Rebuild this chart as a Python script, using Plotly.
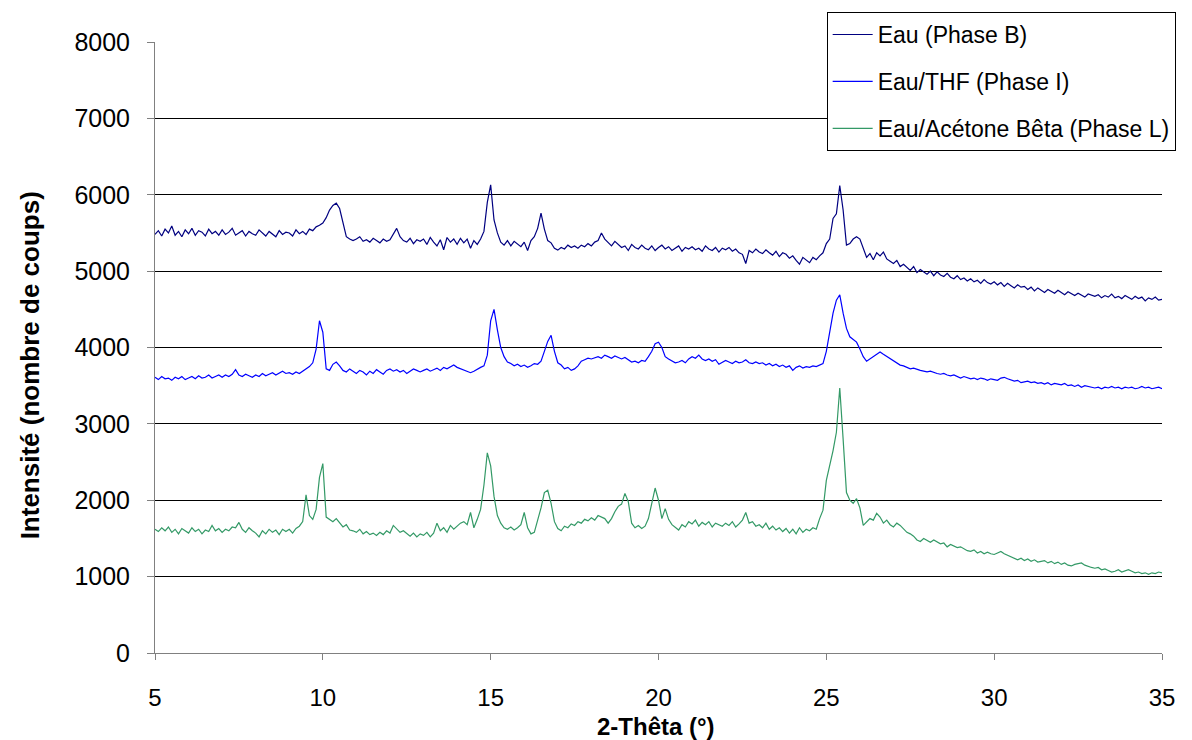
import numpy as np
import plotly.graph_objects as go

# 2-Theta positions (degrees), 0.1 step from 5 to 35
two_theta = [round(5 + 0.1 * i, 1) for i in range(301)]

series_names = ["Eau (Phase B)", "Eau/THF (Phase I)", "Eau/Acétone Bêta (Phase L)"]

eau_phase_b = [
    5480, 5530, 5460, 5550, 5500, 5590, 5470, 5520, 5450, 5540,
    5490, 5560, 5470, 5530, 5510, 5460, 5550, 5490, 5520, 5470,
    5540, 5480, 5510, 5560, 5470, 5500, 5530, 5460, 5520, 5490,
    5470, 5540, 5500, 5460, 5520, 5490, 5450, 5530, 5480, 5510,
    5500, 5460, 5540, 5490, 5520, 5480, 5550, 5530, 5580, 5600,
    5630, 5700, 5800, 5860, 5890, 5820, 5620, 5450, 5420, 5400,
    5420, 5450, 5390, 5410, 5380, 5430, 5400, 5370, 5420, 5390,
    5410, 5480, 5560, 5450, 5400, 5380, 5430, 5360, 5410, 5390,
    5420, 5350, 5440, 5380, 5330, 5410, 5280, 5440, 5380, 5420,
    5350, 5430, 5370, 5420, 5300, 5400, 5350, 5420, 5520, 5900,
    6130, 5670, 5500, 5380, 5340, 5400, 5330, 5390, 5360, 5320,
    5380, 5270, 5400, 5450, 5560, 5760, 5550, 5400, 5370, 5300,
    5275, 5310, 5290, 5340, 5310, 5330, 5300, 5340, 5320, 5360,
    5330, 5380, 5400, 5500, 5420, 5380, 5330, 5390, 5350, 5310,
    5330, 5270, 5350, 5310, 5290, 5340, 5300, 5280, 5330, 5270,
    5310, 5340, 5290, 5320, 5270, 5300, 5330, 5260, 5310, 5290,
    5320, 5280, 5300, 5260, 5330, 5290, 5270, 5310, 5250, 5300,
    5280, 5310, 5260, 5290, 5240, 5220, 5100, 5270, 5240, 5290,
    5250, 5230, 5280, 5240, 5210, 5260, 5190, 5240, 5220, 5170,
    5200, 5140, 5090, 5180, 5150, 5110, 5180, 5150, 5200, 5240,
    5360, 5420, 5690, 5750, 6120, 5800, 5340, 5360, 5420, 5450,
    5420, 5300, 5180, 5230, 5150, 5240, 5200, 5250, 5160, 5130,
    5100, 5140, 5060, 5090, 5050, 5010, 5060, 4980, 5020, 4990,
    4960, 5000, 4940, 4990, 4950, 4930, 4970, 4920, 4900, 4940,
    4890, 4910, 4870, 4900, 4860, 4880, 4840, 4890, 4850, 4830,
    4860, 4820, 4850, 4800, 4840, 4810, 4780, 4820, 4790, 4800,
    4760, 4790, 4740, 4780, 4750, 4720, 4760, 4730, 4710, 4750,
    4720, 4690, 4730, 4700, 4680, 4710, 4690, 4660, 4700, 4680,
    4670, 4690, 4650, 4680, 4660, 4700, 4650, 4670, 4640, 4680,
    4660, 4630, 4670, 4640, 4660, 4610, 4650, 4630, 4660, 4620,
    4630,
]

eau_thf_phase_i = [
    3610, 3580, 3620, 3590, 3600, 3570, 3610, 3590, 3620, 3580,
    3600, 3620, 3590, 3630, 3600, 3610, 3640, 3600, 3620, 3640,
    3610, 3640, 3620, 3650, 3710, 3640, 3620, 3650, 3630, 3610,
    3640, 3620, 3660, 3630, 3650, 3670, 3640, 3660, 3690, 3660,
    3670, 3650, 3680, 3660, 3690, 3720, 3750, 3800, 3980, 4350,
    4200, 3720, 3700, 3780, 3810, 3760, 3700, 3680, 3720, 3690,
    3660, 3700, 3680, 3640, 3690, 3660, 3710, 3680, 3650, 3700,
    3720, 3690, 3710, 3680, 3700, 3660, 3690, 3720, 3700, 3680,
    3700, 3720, 3690, 3710, 3730, 3700, 3740, 3720, 3750, 3770,
    3740, 3720, 3700, 3680, 3670, 3690, 3720, 3740, 3760, 3900,
    4350, 4500, 4230, 4000, 3880, 3810, 3790, 3760, 3780, 3750,
    3770, 3740, 3760, 3790, 3780, 3820, 3950, 4080, 4160, 3950,
    3800, 3770, 3720, 3740, 3700, 3720, 3760, 3820, 3840, 3860,
    3850, 3870, 3880, 3860, 3900, 3880, 3860, 3890, 3870, 3850,
    3870, 3840, 3810, 3820, 3800, 3830, 3820, 3880, 3950, 4050,
    4070, 4000, 3880, 3850, 3830, 3800, 3810, 3830, 3800, 3850,
    3880, 3860, 3900, 3850, 3830, 3850, 3820, 3840, 3780, 3800,
    3830, 3810, 3790, 3820, 3800, 3810, 3840, 3800, 3790, 3810,
    3790, 3800, 3770, 3790, 3760, 3780, 3750, 3770, 3740, 3760,
    3700, 3740, 3760, 3730, 3750, 3740, 3760, 3750, 3770, 3790,
    3950, 4200, 4450, 4620, 4690, 4450, 4250, 4140, 4100, 4070,
    3980, 3880, 3820, 3850, 3880, 3910, 3940, 3910, 3880, 3850,
    3820, 3790, 3770, 3760, 3740, 3720, 3730, 3710, 3700, 3690,
    3680, 3690, 3670, 3660, 3650, 3660, 3640, 3630, 3640, 3620,
    3600, 3620, 3610, 3590, 3600, 3580, 3600, 3590, 3570, 3590,
    3580, 3570, 3600, 3610, 3590, 3580, 3560, 3570, 3540, 3550,
    3560, 3540, 3550, 3530, 3540, 3520, 3540, 3510, 3530, 3520,
    3510, 3530, 3500, 3510, 3490, 3510, 3480, 3500, 3490, 3480,
    3470, 3480, 3460, 3480, 3470, 3490, 3470, 3480, 3460, 3480,
    3470, 3480, 3460, 3470, 3490, 3470, 3480, 3460, 3470, 3480,
    3460,
]

eau_acetone_phase_l = [
    1620, 1590, 1640, 1600, 1650, 1580, 1620, 1560, 1630, 1600,
    1570, 1640, 1590, 1620, 1560, 1610, 1590, 1670, 1600, 1630,
    1580, 1620, 1600, 1650, 1640, 1710, 1620, 1580, 1640, 1600,
    1570, 1520, 1600, 1560, 1620, 1580, 1610, 1550, 1620, 1590,
    1620, 1570, 1630, 1660, 1720, 2070, 1800, 1750, 1880, 2300,
    2480, 1780, 1750, 1720, 1760, 1700, 1650, 1680, 1610, 1600,
    1580, 1620, 1560, 1590, 1550, 1570, 1540, 1580, 1550, 1600,
    1570, 1670, 1620, 1580, 1600, 1560, 1530, 1570, 1520, 1560,
    1540, 1580, 1520, 1570, 1700, 1600, 1640, 1580, 1670, 1620,
    1660, 1700, 1720, 1680, 1840, 1640, 1750, 1880, 2200, 2620,
    2450, 2050, 1800, 1700, 1640, 1620, 1650, 1610, 1640, 1680,
    1840, 1640, 1560, 1580, 1740, 1900, 2100, 2130, 1960, 1720,
    1630, 1600, 1660, 1640, 1690, 1670, 1720, 1700, 1750, 1730,
    1770, 1740, 1800, 1780, 1760, 1700, 1760, 1850, 1920, 1950,
    2090, 1980, 1700, 1640, 1670, 1630, 1660, 1760, 1950, 2160,
    2000, 1760, 1890, 1750, 1680, 1640, 1610, 1680, 1650, 1720,
    1690, 1740, 1660, 1710, 1680, 1720, 1650, 1700, 1680, 1660,
    1700, 1670, 1720, 1650, 1690, 1740, 1840, 1700, 1720, 1660,
    1680, 1640, 1700, 1620, 1660, 1610, 1640, 1590, 1630, 1570,
    1620, 1560, 1640, 1580, 1620, 1600, 1640, 1620, 1760, 1870,
    2260, 2450, 2650, 2890, 3470, 2800, 2100, 2000, 1960, 2020,
    1900, 1670, 1720, 1760, 1740, 1830, 1780, 1700, 1740, 1680,
    1650, 1700, 1670, 1620, 1580, 1560, 1530, 1480, 1460, 1500,
    1470, 1450, 1480, 1460, 1430, 1440, 1390, 1420, 1400, 1380,
    1390, 1360, 1340, 1330, 1350, 1310, 1330, 1300, 1320, 1300,
    1290, 1310, 1330, 1300, 1280, 1260, 1240, 1220, 1240, 1210,
    1230, 1200, 1220, 1190, 1200, 1210, 1180, 1200, 1170, 1190,
    1160, 1180, 1150, 1140, 1160, 1170, 1180, 1150, 1130, 1120,
    1110, 1120, 1090, 1100, 1080, 1060, 1070, 1090, 1060, 1080,
    1090, 1070, 1050, 1060, 1040, 1050, 1030, 1050, 1040, 1060,
    1050,
]

x_ticks = [5, 10, 15, 20, 25, 30, 35]
y_ticks = [0, 1000, 2000, 3000, 4000, 5000, 6000, 7000, 8000]

colors = ["#000080", "#0000FF", "#339966"]
all_series = [eau_phase_b, eau_thf_phase_i, eau_acetone_phase_l]

fig = go.Figure()
for i, (name, vals, col) in enumerate(zip(series_names, all_series, colors)):
    fig.add_trace(go.Scatter(
        x=two_theta, y=vals, mode="lines", name=name,
        line=dict(color=col, width=1.2),
        legendgroup=f"g{i}",
    ))

font_family = "Liberation Sans, Arial, sans-serif"

fig.update_layout(
    width=1184, height=732,
    margin=dict(l=147, r=30, t=34, b=87, autoexpand=False),
    paper_bgcolor="white", plot_bgcolor="white",
    font=dict(family=font_family, color="black"),
    showlegend=True,
    legend=dict(
        x=0.667, y=1.049, xanchor="left", yanchor="top",
        bgcolor="white", bordercolor="black", borderwidth=1,
        font=dict(size=23, family=font_family, color="black"),
        tracegroupgap=14,
        itemwidth=40,
    ),
    xaxis=dict(
        range=[5, 35], tickvals=x_ticks, ticktext=[str(v) for v in x_ticks],
        showgrid=False, zeroline=False,
        showline=True, linecolor="#808080", linewidth=1,
        ticks="outside", ticklen=6, tickcolor="#808080",
        ticklabelstandoff=17,
        tickfont=dict(size=24, family=font_family),
    ),
    yaxis=dict(
        range=[0, 8000], tickvals=y_ticks, ticktext=[str(v) for v in y_ticks],
        showgrid=True, gridcolor="black", gridwidth=1,
        zeroline=False,
        showline=True, linecolor="#808080", linewidth=1,
        ticks="outside", ticklen=7, tickcolor="#808080",
        ticklabelstandoff=12,
        tickfont=dict(size=25, family=font_family),
    ),
    annotations=[
        dict(text="<b>2-Thêta (°)</b>", xref="paper", yref="paper",
             x=0.4975, y=-0.1195, xanchor="center", yanchor="middle",
             showarrow=False, font=dict(size=24, family=font_family)),
        dict(text="<b>Intensité (nombre de coups)</b>", xref="paper", yref="paper",
             x=-0.124, y=0.471, xanchor="center", yanchor="middle", textangle=-90,
             showarrow=False, font=dict(size=26, family=font_family)),
    ],
)

fig.write_html("out.html")
